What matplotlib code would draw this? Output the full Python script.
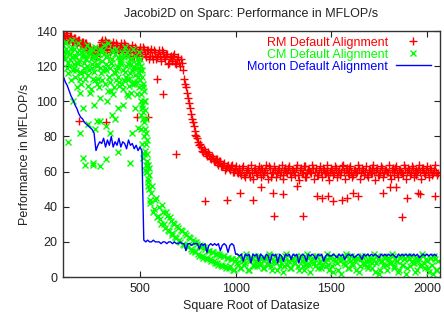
import numpy as np
import matplotlib
matplotlib.use("Agg")
import matplotlib.pyplot as plt

plt.rcParams['font.family'] = ['Liberation Sans', 'DejaVu Sans']

title = "Jacobi2D on Sparc: Performance in MFLOP/s"
xlabel = "Square Root of Datasize"
ylabel = "Performance in MFLOP/s"
labels = ["RM Default Alignment", "CM Default Alignment", "Morton Default Alignment"]
xticks = [500, 1000, 1500, 2000]
yticks = [0, 20, 40, 60, 80, 100, 120, 140]

# sample grids (square root of datasize)
grid_x = list(range(100, 2060, 10))     # 100..2050
grid_x2 = list(range(105, 2065, 10))    # 105..2055

rm_y = [
    139, 136, 138, 135, 137, 134, 136, 133, 135, 132,
    134, 131, 133, 129, 131, 127, 130, 126, 129, 131,
    135, 130, 134, 129, 133, 130, 134, 128, 132, 129,
    133, 128, 132, 127, 131, 128, 132, 126, 130, 127,
    131, 126, 130, 125, 129, 126, 130, 124, 128, 125,
    129, 123, 128, 124, 127, 122, 126, 123, 127, 121,
    125, 120, 122, 113, 108, 102, 96, 90, 86, 81,
    79, 75, 74, 71, 72, 69, 70, 67, 68, 66,
    67, 64, 66, 63, 65, 62, 64, 61, 64, 60,
    63, 59, 62, 58, 63, 57, 61, 59, 64, 56,
    62, 58, 63, 57, 61, 60, 64, 56, 62, 59,
    63, 57, 61, 58, 64, 56, 62, 59, 63, 57,
    61, 58, 64, 55, 62, 59, 63, 57, 61, 60,
    64, 56, 62, 58, 63, 57, 61, 59, 64, 55,
    62, 58, 63, 57, 61, 60, 64, 56, 62, 58,
    63, 57, 61, 59, 64, 56, 62, 58, 63, 57,
    61, 59, 64, 55, 62, 58, 63, 57, 61, 60,
    64, 56, 62, 58, 63, 57, 61, 59, 64, 56,
    62, 58, 63, 57, 61, 60, 64, 56, 62, 58,
    63, 57, 61, 59, 64, 58,
]
rm_y2 = [
    137, 139, 135, 137, 134, 136, 133, 135, 132, 134,
    131, 133, 129, 131, 127, 129, 126, 128, 131, 134,
    132, 135, 131, 133, 128, 132, 130, 133, 129, 131,
    130, 133, 129, 131, 126, 130, 128, 131, 127, 129,
    128, 131, 127, 129, 124, 128, 126, 129, 124, 127,
    126, 129, 125, 127, 121, 125, 124, 126, 122, 124,
    122, 124, 118, 110, 105, 99, 93, 88, 83, 80,
    77, 76, 72, 73, 70, 71, 68, 69, 66, 67,
    65, 66, 63, 64, 61, 63, 62, 63, 60, 62,
    60, 61, 59, 62, 58, 60, 62, 57, 60, 61,
    59, 61, 60, 62, 58, 61, 59, 63, 57, 60,
    61, 59, 62, 60, 58, 61, 60, 62, 59, 61,
    60, 62, 58, 61, 59, 63, 57, 60, 61, 59,
    62, 60, 58, 61, 60, 62, 59, 61, 58, 60,
    61, 59, 62, 60, 58, 63, 60, 61, 59, 62,
    60, 58, 61, 60, 62, 59, 61, 60, 58, 61,
    59, 62, 60, 61, 58, 60, 62, 59, 61, 60,
    58, 61, 60, 62, 59, 61, 60, 58, 62, 60,
    61, 59, 62, 60, 58, 61, 60, 62, 59, 61,
    60, 62, 58, 61, 60, 59,
]
# extra RM samples (outliers)
rm_extra_x = [180, 325, 487, 540, 590, 620, 690, 840, 955, 1025, 1090, 1130,
              1195, 1200, 1245, 1320, 1350, 1425, 1450, 1485, 1510, 1555,
              1580, 1615, 1640, 1770, 1805, 1840, 1870, 1895, 1955, 1965, 2040]
rm_extra_y = [89, 88, 91, 91, 113, 104, 70, 43, 44, 48, 44, 51,
              48, 35, 47, 52, 35, 46, 45, 46, 43, 44,
              45, 48, 46, 48, 51, 51, 34, 45, 48, 47, 46]

cm_y = [
    132, 124, 128, 120, 130, 118, 126, 122, 129, 116,
    127, 119, 124, 115, 128, 121, 117, 125, 113, 130,
    123, 132, 118, 126, 114, 122, 128, 116, 120, 111,
    125, 118, 131, 113, 121, 116, 124, 110, 119, 114,
    118, 96, 70, 60, 54, 42, 48, 37, 44, 34,
    40, 30, 37, 28, 35, 26, 32, 24, 30, 22,
    28, 20, 26, 18, 24, 17, 22, 15, 20, 14,
    19, 12, 17, 11, 16, 10, 15, 9, 14, 8,
    13, 7, 12, 6, 12, 5, 11, 6, 10, 4,
    10, 7, 12, 5, 9, 8, 11, 4, 10, 7,
    12, 6, 9, 8, 11, 5, 10, 7, 12, 4,
    9, 8, 11, 6, 10, 3, 12, 7, 9, 5,
    11, 8, 10, 4, 12, 6, 9, 7, 11, 3,
    10, 8, 12, 5, 9, 7, 11, 6, 10, 4,
    12, 3, 9, 8, 11, 2, 10, 7, 12, 5,
    9, 8, 11, 4, 10, 6, 12, 7, 9, 5,
    11, 8, 10, 3, 12, 2, 9, 7, 11, 4,
    10, 8, 12, 5, 9, 3, 11, 7, 10, 2,
    12, 6, 9, 8, 11, 4, 10, 7, 12, 5,
    9, 3, 11, 2, 10, 4,
]
cm_y2 = [
    128, 134, 122, 127, 131, 119, 125, 133, 117, 128,
    122, 126, 132, 118, 124, 129, 112, 121, 127, 116,
    129, 119, 125, 133, 111, 124, 117, 130, 114, 122,
    128, 112, 120, 126, 109, 121, 130, 115, 124, 108,
    120, 110, 100, 78, 62, 44, 52, 39, 45, 35,
    33, 41, 30, 37, 27, 34, 25, 31, 23, 29,
    21, 27, 19, 25, 18, 23, 16, 21, 15, 20,
    13, 18, 12, 17, 11, 15, 10, 14, 9, 13,
    8, 13, 7, 12, 6, 11, 5, 10, 4, 9,
    8, 12, 5, 10, 7, 13, 4, 9, 11, 6,
    9, 12, 7, 10, 5, 11, 8, 13, 6, 9,
    12, 4, 10, 8, 11, 6, 13, 9, 5, 10,
    8, 12, 6, 11, 9, 4, 10, 13, 7, 9,
    11, 6, 12, 8, 5, 10, 9, 13, 7, 11,
    6, 10, 12, 4, 9, 11, 8, 13, 5, 10,
    12, 7, 9, 11, 3, 10, 8, 12, 6, 9,
    11, 5, 13, 8, 10, 4, 9, 12, 7, 11,
    8, 13, 6, 10, 9, 4, 12, 7, 11, 5,
    10, 12, 8, 3, 11, 9, 6, 13, 8, 10,
    5, 11, 7, 12, 4, 9,
]
# more CM samples in the dense region 100..500
cm3_x = list(range(103, 500, 10))
cm3_y = [
    126, 130, 116, 124, 135, 121, 114, 128, 123, 110,
    129, 113, 120, 127, 107, 125, 131, 110, 124, 119,
    112, 127, 121, 106, 119, 129, 108, 118, 125, 109,
    121, 107, 117, 128, 113, 105, 119, 126, 111, 116,
]
cm4_x = list(range(107, 500, 10))
cm4_y = [
    133, 119, 127, 112, 125, 130, 118, 122, 113, 126,
    117, 124, 109, 130, 119, 113, 126, 120, 108, 128,
    118, 110, 126, 114, 122, 104, 127, 112, 119, 123,
    110, 125, 114, 103, 124, 118, 111, 121, 104, 122,
]
# CM column near 500 and scattered low samples
cm_extra_x = [495, 500, 505, 510, 515, 505, 520, 512, 525, 518, 530, 522, 528,
              535, 540, 510, 515, 520, 525, 530, 535, 540, 545, 500, 507,
              513, 517, 523, 527, 533, 537, 543, 548, 503, 532,
              126, 189, 189, 200, 204, 215, 230, 241, 252, 257, 267, 277, 293,
              293, 293, 320, 320, 345, 356, 372, 387, 387, 450, 460, 460, 476,
              492, 150, 170, 260, 330, 410, 430, 350]
cm_extra_y = [128, 112, 104, 98, 90, 84, 80, 76, 72, 68, 64, 88, 95,
              60, 56, 118, 108, 100, 84, 76, 70, 64, 58, 124, 92,
              114, 94, 106, 61, 82, 66, 52, 50, 100, 90,
              77, 82, 105, 96, 68, 64, 87, 105, 65, 64, 84, 89, 63,
              89, 102, 86, 67, 82, 92, 90, 96, 71, 65, 82, 110, 96,
              85, 100, 108, 98, 100, 98, 104, 106]

mo_y = [
    114, 111, 109, 106, 103, 101, 98, 96, 93, 91,
    90, 88, 87, 86, 85, 84, 82, 72, 75, 77,
    76, 79, 74, 78, 75, 80, 74, 77, 75, 79,
    74, 77, 76, 73, 78, 75, 76, 73, 75, 72,
    74, 72, 21, 20, 21, 20, 20, 21, 20, 20,
    20, 19, 20, 20, 19, 20, 20, 19, 20, 19,
    19, 20, 19, 19, 15, 19, 19, 18, 19, 19,
    19, 16, 19, 18, 19, 14, 18, 19, 18, 19,
    18, 19, 15, 18, 19, 18, 14, 18, 19, 18,
    13, 13, 12, 13, 9, 13, 12, 13, 8, 13,
    12, 13, 9, 13, 12, 10, 13, 12, 8, 13,
    12, 13, 8, 13, 12, 9, 13, 12, 13, 10,
    13, 12, 13, 8, 12, 13, 12, 9, 13, 12,
    13, 12, 10, 13, 12, 13, 9, 12, 13, 12,
    12, 13, 12, 11, 13, 12, 13, 10, 12, 13,
    12, 13, 11, 12, 13, 12, 10, 13, 12, 13,
    12, 13, 12, 13, 12, 11, 13, 12, 13, 12,
    13, 12, 13, 12, 11, 13, 12, 13, 12, 13,
    12, 13, 12, 13, 12, 13, 11, 12, 13, 12,
    13, 12, 13, 12, 13, 12,
]

fig = plt.figure(figsize=(4.44, 3.24), dpi=100)
ax = fig.add_axes([0.142, 0.145, 0.849, 0.759])

rx = grid_x + grid_x2 + rm_extra_x
ry = rm_y + rm_y2 + rm_extra_y
ax.plot(rx, ry, linestyle='none', marker='+', color='#ff0000', markersize=5.5,
        markeredgewidth=1.0, label=labels[0])
cx = grid_x + grid_x2 + cm3_x + cm4_x + cm_extra_x
cy = cm_y + cm_y2 + cm3_y + cm4_y + cm_extra_y
ax.plot(cx, cy, linestyle='none', marker='x', color='#00ff00', markersize=5,
        markeredgewidth=1.0, label=labels[1])
ax.plot(grid_x, mo_y, color='#0000ff', linewidth=1.0, label=labels[2])

ax.set_xlim(98, 2068)
ax.set_ylim(0, 140)
ax.set_xticks(xticks)
ax.set_yticks(yticks)
ax.tick_params(direction='in', length=4, width=0.8, top=True, right=True,
               labelsize=9, colors='#222222', pad=4)
for s in ax.spines.values():
    s.set_linewidth(1.0)
    s.set_color('#333333')

ax.set_title(title, fontsize=9, pad=10, color='#222222')
ax.set_xlabel(xlabel, fontsize=9, color='#222222')
ax.set_ylabel(ylabel, fontsize=9, color='#222222')

leg = ax.legend(loc='upper right', markerfirst=False, frameon=False,
                labelcolor='linecolor', fontsize=9, handlelength=2.8,
                borderaxespad=0.2, labelspacing=0.0, handletextpad=0.6,
                bbox_to_anchor=(0.995, 1.008))
for t in leg.get_texts():
    t.set_ha('right')

fig.savefig('out.png', dpi=100)
